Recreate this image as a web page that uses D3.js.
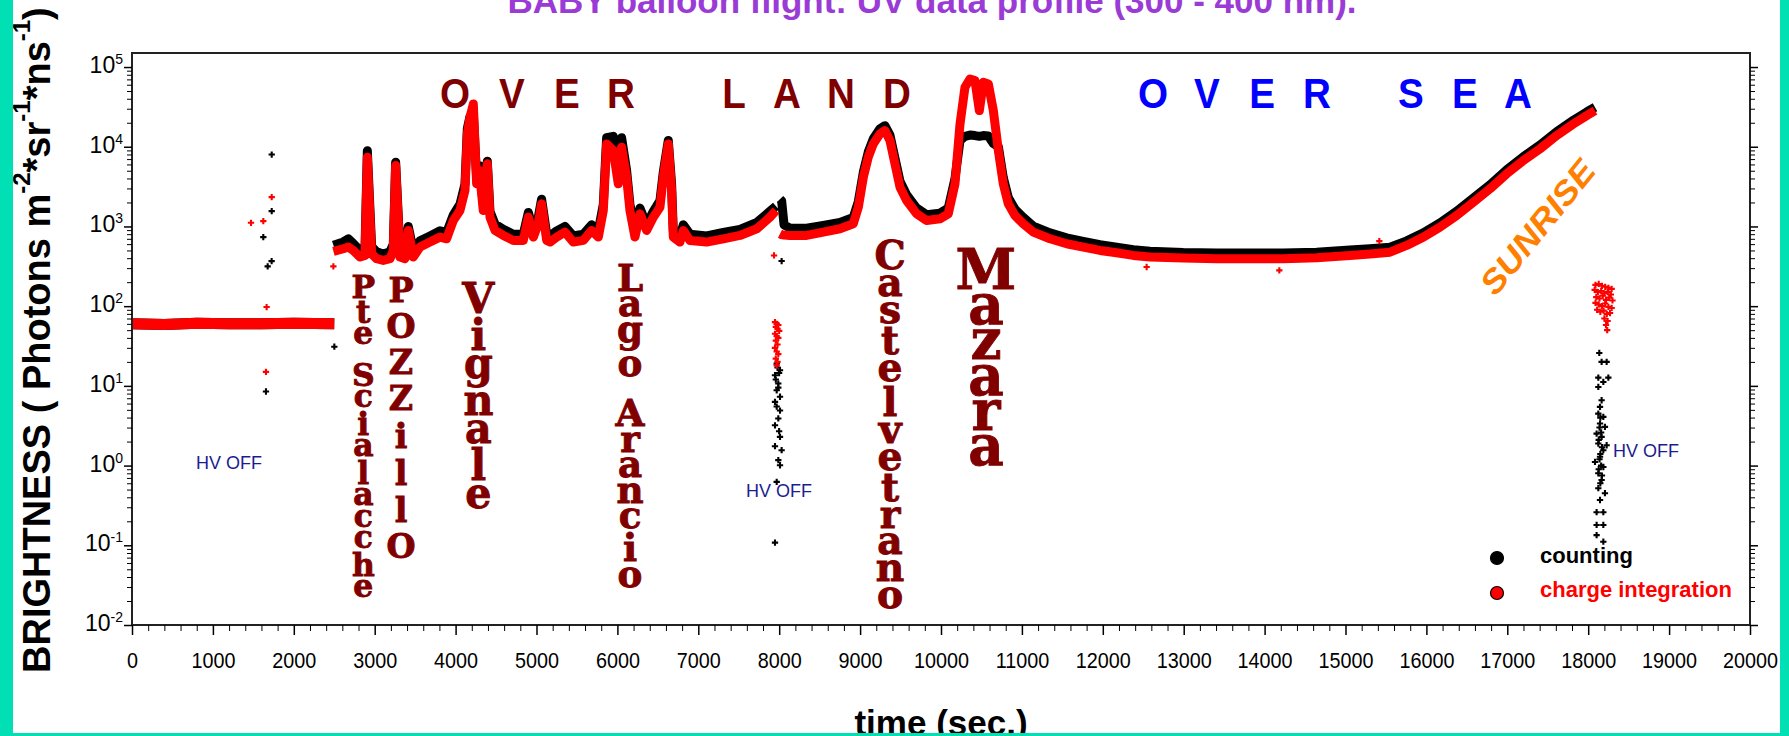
<!DOCTYPE html>
<html>
<head>
<meta charset="utf-8">
<script src="https://cdn.jsdelivr.net/npm/d3@7"></script>
<style>
body{margin:0;background:#fff;}
svg{display:block;}
</style>
</head>
<body>
<svg width="1789" height="736"></svg>
<script>
// values (time in s, brightness)
var flatTime  = [0, 400, 800, 1200, 1600, 2000, 2500]
var flatRed   = [60, 59, 61, 60, 60, 61, 60]
var flatBlack = [60, 59, 61, 60, 60, 61, 60]

var landTime = [2490, 2612, 2674, 2736, 2818, 2880, 2909, 2962, 3024, 3106, 3189, 3230, 3259, 3312, 3374, 3415, 3477, 3560, 3683, 3807,
  3889, 3972, 4054, 4116, 4145, 4178, 4219, 4260, 4293, 4342, 4392, 4425, 4487, 4590, 4713, 4837, 4899, 4961, 5022, 5063,
  5126, 5167, 5249, 5352, 5455, 5579, 5682, 5764, 5826, 5867, 5949, 6011, 6052, 6114, 6155, 6217, 6279, 6361, 6444, 6526,
  6567, 6629, 6670, 6691, 6773, 6815, 6897, 7103, 7309, 7515, 7723, 7886, 7960]
var landRed = [486, 525, 551, 500, 413, 433, 7400, 455, 394, 375, 394, 500, 5810, 413, 394, 891, 413, 551, 637, 735,
  700, 1188, 1585, 2823, 14500, 23400, 34400, 3430, 5040, 1585, 6100, 1309, 891, 771, 668, 668, 1309, 735, 1080, 1923,
  668, 637, 735, 849, 637, 668, 891, 735, 1585, 10860, 8960, 3430, 9860, 4150, 1585, 735, 1442, 891, 1309, 1746,
  4150, 10860, 2823, 735, 637, 891, 668, 637, 700, 771, 935, 1309, 1585]
var landBlack = [580, 640, 700, 610, 500, 520, 8900, 560, 480, 450, 480, 600, 6400, 500, 480, 1000, 500, 660, 760, 880,
  840, 1400, 1900, 3400, 17000, 24000, 26000, 4100, 5800, 1900, 6600, 1550, 1070, 920, 800, 800, 1500, 880, 1300, 2200,
  800, 760, 880, 1000, 760, 800, 1050, 880, 1900, 13000, 13500, 4100, 13000, 5000, 1900, 880, 1700, 1050, 1550, 2100,
  4800, 12000, 3400, 880, 760, 1050, 800, 760, 840, 920, 1120, 1550, 1800]

var seaTime = [8010, 8030, 8060, 8133, 8339, 8545, 8751, 8916, 8978, 9040, 9101, 9163, 9245, 9307, 9369, 9431, 9493, 9575, 9699, 9822,
  9987, 10090, 10173, 10235, 10296, 10358, 10420, 10474, 10523, 10585, 10647, 10709, 10770, 10832, 10914, 11017, 11141, 11347, 11553, 11759,
  11965, 12171, 12377, 12583, 12995, 13407, 13819, 14231, 14643, 15055, 15302, 15550, 15756, 15962, 16168, 16374, 16580, 16786, 16992, 17198,
  17404, 17610, 17816, 17981, 18084]
var seaRed = [809, 790, 780, 771, 771, 849, 935, 1080, 1746, 4150, 7400, 10860, 14500, 15960, 11970, 6100, 3110, 2120, 1442, 1188,
  1247, 1442, 3430, 19300, 55700, 70800, 67600, 28400, 64400, 61400, 28400, 8960, 3430, 1923, 1374, 1080, 849, 700, 607, 551,
  500, 468, 433, 413, 401, 394, 394, 394, 405, 433, 450, 476, 578, 735, 982, 1374, 2018, 2965, 4570, 6710,
  9400, 13800, 19300, 24600, 28400]
var seaBlack = [2200, 2100, 1050, 950, 950, 1030, 1120, 1300, 2050, 4800, 8600, 12600, 16800, 18400, 14000, 7200, 3700, 2500, 1700, 1400,
  1470, 1700, 4000, 12000, 13500, 14000, 13800, 13500, 13800, 13600, 11000, 10000, 4100, 2300, 1650, 1300, 1010, 830, 720, 650,
  590, 550, 510, 490, 470, 465, 465, 465, 475, 505, 525, 550, 660, 830, 1110, 1550, 2270, 3330, 5130, 7500,
  10500, 15400, 21500, 27300, 31300]

// single scattered points: [time, value]
var blackPoints = [[1727, 7980], [1727, 1556], [1623, 735], [1726, 367], [1677, 316], [1656, 8.5], [2501, 31],
  [8030, 368], [7969, 19], [7979, 17], [8010, 15.7], [7999, 14.5], [7948, 13.6], [7958, 12], [7989, 10.7], [7989, 9.5],
  [7969, 8.8], [8010, 7.3], [7948, 6.3], [7969, 5.5], [8010, 4.9], [7989, 3.9], [7948, 3.2], [7999, 2.7], [8010, 2.29],
  [7948, 1.75], [8030, 1.56], [7989, 1.17], [8010, 1.01], [7969, 0.625], [7948, 0.108],
  [18137, 25.9], [18166, 20], [18228, 20], [18125, 12.7], [18249, 12.7], [18187, 11.2], [18125, 9.7], [18166, 6.6],
  [18146, 5.45], [18125, 4.49], [18187, 4.08], [18150, 4], [18146, 3.37], [18207, 3.06], [18140, 3], [18160, 2.6],
  [18104, 2.52], [18166, 2.29], [18130, 2.1], [18125, 1.89], [18228, 1.8], [18170, 1.7], [18187, 1.56], [18150, 1.4],
  [18146, 1.29], [18140, 1.2], [18084, 1.11], [18160, 1.0], [18187, 0.96], [18130, 0.9], [18125, 0.8], [18170, 0.75],
  [18166, 0.66], [18150, 0.6], [18125, 0.52], [18207, 0.45], [18146, 0.37], [18104, 0.26], [18187, 0.26],
  [18104, 0.18], [18187, 0.18], [18104, 0.134], [18187, 0.111]]
var redPoints = [[1471, 1112], [1623, 1167], [1727, 2330], [1664, 97.5], [1656, 15], [2489, 316],
  [7936, 433], [7948, 63], [7969, 60], [7989, 58], [7958, 55], [7979, 52], [8000, 49], [7948, 45], [7969, 42], [7989, 40],
  [7958, 37], [7979, 33], [7948, 30], [7969, 27], [7989, 25], [7958, 22], [7979, 20], [7969, 18],
  [12542, 310], [14182, 281], [15418, 655],
  [18090, 185], [18130, 190], [18170, 180], [18210, 175], [18250, 170], [18290, 165],
  [18080, 160], [18120, 150], [18160, 155], [18200, 145], [18240, 150], [18280, 140],
  [18100, 130], [18140, 125], [18180, 135], [18220, 120], [18260, 128], [18300, 118],
  [18090, 110], [18130, 105], [18170, 100], [18210, 108], [18250, 98], [18290, 95],
  [18110, 90], [18150, 85], [18190, 88], [18230, 80], [18270, 82], [18200, 70], [18240, 65], [18220, 58], [18235, 50]]

// axes
var xTicks = [0, 1000, 2000, 3000, 4000, 5000, 6000, 7000, 8000, 9000, 10000, 11000, 12000, 13000, 14000, 15000, 16000, 17000, 18000, 19000, 20000]
var yExponents = [-2, -1, 0, 1, 2, 3, 4, 5]

// annotations (anchored in data units)
var landLetters = ['O', 'V', 'E', 'R', 'L', 'A', 'N', 'D']
var landLetterTimes = [3993, 4697, 5377, 6044, 7441, 8096, 8764, 9456]
var seaLetters = ['O', 'V', 'E', 'R', 'S', 'E', 'A']
var seaLetterTimes = [12621, 13288, 13968, 14648, 15807, 16477, 17131]
var letterBase = 30600

var placeNames = ['Pte Scialacche', 'POZZillO', 'Vignale', 'Lago Arancio', 'Castelvetrano', 'Mazara']
var placeTimes = [2859, 3325, 4281, 6156, 9370, 10556]
var placeTop = [246, 232, 201, 348, 676, 537]
var placeBottom = [0.0224, 0.069, 0.29, 0.030, 0.0163, 1.016]
var placeFont = [32, 34, 42, 38, 40, 56]

var hvTimes = [791, 7590, 18307]
var hvValues = [0.906, 0.404, 1.28]

var svg = d3.select('svg'),
    W = +svg.attr('width'),
    H = +svg.attr('height')

var sans = 'Liberation Sans, Arial, sans-serif'

svg.append('rect').attr('width', W).attr('height', H).attr('fill', '#fff')

var x = d3.scaleLinear().domain([0, 20000]).range([132, 1750])
var y = d3.scaleLog().domain([0.01, 150000]).range([625, 53])

function zip(t, v) {
    return t.map(function(d, i) { return {t: d, v: v[i]} })
}

var line = d3.line()
    .x(function(d) { return x(d.t) })
    .y(function(d) { return y(d.v) })

// black (counting) first, red (charge integration) drawn over it
var curves = [
    [flatBlack, flatTime, '#000', 11], [landBlack, landTime, '#000', 9], [seaBlack, seaTime, '#000', 9],
    [flatRed, flatTime, '#ff0000', 11], [landRed, landTime, '#ff0000', 9], [seaRed, seaTime, '#ff0000', 9]
]
curves.forEach(function(c) {
    svg.append('path')
        .datum(zip(c[1], c[0]))
        .attr('d', line)
        .attr('fill', 'none')
        .attr('stroke', c[2])
        .attr('stroke-width', c[3])
        .attr('stroke-linejoin', 'round')
})

var cross = d3.symbol().type(d3.symbolCross).size(22)
svg.append('g').selectAll('path')
    .data(blackPoints)
    .join('path')
    .attr('d', cross)
    .attr('fill', '#000')
    .attr('transform', function(d) { return 'translate(' + x(d[0]) + ',' + y(d[1]) + ')' })
svg.append('g').selectAll('path')
    .data(redPoints)
    .join('path')
    .attr('d', cross)
    .attr('fill', '#ff0000')
    .attr('transform', function(d) { return 'translate(' + x(d[0]) + ',' + y(d[1]) + ')' })

// frame
svg.append('rect')
    .attr('x', 132).attr('y', 53)
    .attr('width', 1750 - 132).attr('height', 625 - 53)
    .attr('fill', 'none').attr('stroke', '#222').attr('stroke-width', 2)

// x axis
var gx = svg.append('g')
    .attr('transform', 'translate(0,625)')
    .call(d3.axisBottom(x).tickValues(xTicks).tickFormat(d3.format('d')).tickSize(10).tickPadding(17).tickSizeOuter(0))
    .attr('font-family', sans).attr('font-size', 22)
gx.select('.domain').remove()
gx.selectAll('line').attr('stroke-width', 1.5)
gx.selectAll('text').attr('transform', 'scale(0.9,1)')

var xMinor = d3.range(200, 20000, 200).filter(function(d) { return d % 1000 })
svg.append('g')
    .attr('transform', 'translate(0,625)')
    .call(d3.axisBottom(x).tickValues(xMinor).tickFormat('').tickSize(6).tickSizeOuter(0))
    .call(function(g) { g.select('.domain').remove() })

// y axes, left and right
var yMajor = yExponents.map(function(e) { return Math.pow(10, e) })
var yMinor = []
yExponents.slice(0, -1).forEach(function(e) {
    for (var k = 2; k < 10; k++) yMinor.push(k * Math.pow(10, e))
})
;[[d3.axisLeft, 132], [d3.axisRight, 1750]].forEach(function(a) {
    svg.append('g').attr('transform', 'translate(' + a[1] + ',0)')
        .call(a[0](y).tickValues(yMajor).tickFormat('').tickSize(8).tickSizeOuter(0))
        .call(function(g) { g.select('.domain').remove(); g.selectAll('line').attr('stroke-width', 1.5) })
    svg.append('g').attr('transform', 'translate(' + a[1] + ',0)')
        .call(a[0](y).tickValues(yMinor).tickFormat('').tickSize(5).tickSizeOuter(0))
        .call(function(g) { g.select('.domain').remove() })
})

yExponents.forEach(function(e) {
    var t = svg.append('text')
        .attr('x', 123).attr('y', y(Math.pow(10, e)) + 6)
        .attr('text-anchor', 'end')
        .attr('font-family', sans).attr('font-size', 23)
    t.append('tspan').text('10')
    t.append('tspan').attr('dy', -9).attr('font-size', 14).text(e)
})

// titles
svg.append('text')
    .attr('x', 932).attr('y', 12.7)
    .attr('text-anchor', 'middle')
    .attr('font-family', sans).attr('font-weight', 'bold').attr('font-size', 35)
    .attr('fill', '#9b3bd6')
    .text('BABY balloon flight: UV data profile (300 - 400 nm).')

svg.append('text')
    .attr('x', 941).attr('y', 735)
    .attr('text-anchor', 'middle')
    .attr('font-family', sans).attr('font-weight', 'bold').attr('font-size', 35)
    .text('time (sec.)')

var yt = svg.append('text')
    .attr('transform', 'translate(50,673) rotate(-90)')
    .attr('font-family', sans).attr('font-weight', 'bold').attr('font-size', 38)
yt.append('tspan').text('BRIGHTNESS ( Photons m')
yt.append('tspan').attr('dy', -20).attr('font-size', 24).text('-2')
yt.append('tspan').attr('dy', 20).text('*sr')
yt.append('tspan').attr('dy', -20).attr('font-size', 24).text('-1')
yt.append('tspan').attr('dy', 20).text('*ns')
yt.append('tspan').attr('dy', -20).attr('font-size', 24).text('-1')
yt.append('tspan').attr('dy', 20).text(')')

// OVER LAND / OVER SEA
function spaced(letters, times, colour) {
    letters.forEach(function(c, i) {
        svg.append('text')
            .attr('transform', 'translate(' + x(times[i]) + ',' + y(letterBase) + ') scale(0.92,1)')
            .attr('text-anchor', 'middle')
            .attr('font-family', sans).attr('font-weight', 'bold').attr('font-size', 42)
            .attr('fill', colour)
            .text(c)
    })
}
spaced(landLetters, landLetterTimes, '#800000')
spaced(seaLetters, seaLetterTimes, '#0000ff')

// place names, letters stacked upright in one text element each
function glyphExtent(c) {
    if (/[A-Z0-9]/.test(c)) return [0.73, 0]
    if (/[bdfhkli]/.test(c)) return [0.76, 0]
    if (c == 't') return [0.66, 0]
    if (/[gpqy]/.test(c)) return [0.55, 0.22]
    return [0.55, 0]
}
placeNames.forEach(function(name, k) {
    var fs = placeFont[k], top = y(placeTop[k]), bottom = y(placeBottom[k])
    var glyphs = [], units = 0, total = 0, pending = 0
    name.split('').forEach(function(c) {
        if (c == ' ') { pending += 4; return }
        var e = glyphExtent(c)
        var u = glyphs.length ? 1 + pending : 0
        glyphs.push({c: c, a: e[0] * fs, d: e[1] * fs, u: u})
        units += u
        total += (e[0] + e[1]) * fs
        pending = 0
    })
    var gap = (bottom - top - total) / units
    var cursor = top
    var txt = svg.append('text')
        .attr('transform', 'translate(' + x(placeTimes[k]) + ',0) scale(0.98,1)')
        .attr('text-anchor', 'middle')
        .attr('font-family', 'DejaVu Serif, serif').attr('font-weight', 'bold').attr('font-size', fs)
        .attr('fill', '#800000').attr('stroke', '#800000').attr('stroke-width', 0.9)
    glyphs.forEach(function(g) {
        cursor += g.u * gap
        var base = cursor + g.a
        txt.append('tspan').attr('x', 0).attr('y', base).text(g.c)
        cursor = base + g.d
    })
})

// HV OFF labels
hvTimes.forEach(function(t, i) {
    svg.append('text')
        .attr('x', x(t)).attr('y', y(hvValues[i]))
        .attr('font-family', sans).attr('font-size', 18)
        .attr('fill', '#1c1c90')
        .text('HV OFF')
})

// SUNRISE
svg.append('text')
    .attr('transform', 'translate(' + x(17373) + ',' + y(980) + ') rotate(-51)')
    .attr('text-anchor', 'middle').attr('dominant-baseline', 'central')
    .attr('font-family', sans).attr('font-weight', 'bold').attr('font-style', 'italic').attr('font-size', 33)
    .attr('textLength', 162).attr('lengthAdjust', 'spacingAndGlyphs')
    .attr('fill', '#ff8000')
    .text('SUNRISE')

// legend
var legend = [['counting', '#000', '#000', 558, 563], ['charge integration', '#ff0000', '#ff0000', 593, 597]]
legend.forEach(function(l) {
    svg.append('circle')
        .attr('cx', 1497).attr('cy', l[3]).attr('r', 6.5)
        .attr('fill', l[1]).attr('stroke', '#000').attr('stroke-width', 1.2)
    svg.append('text')
        .attr('x', 1540).attr('y', l[4])
        .attr('font-family', sans).attr('font-weight', 'bold').attr('font-size', 22)
        .attr('fill', l[2])
        .text(l[0])
})

// teal border
svg.append('rect').attr('x', 0).attr('y', 0).attr('width', 13).attr('height', H).attr('fill', '#00e0b4')
svg.append('rect').attr('x', 1780).attr('y', 0).attr('width', 9).attr('height', H).attr('fill', '#00e0b4')
svg.append('rect').attr('x', 0).attr('y', 733).attr('width', W).attr('height', 3).attr('fill', '#00e0b4')
</script>
</body>
</html>
